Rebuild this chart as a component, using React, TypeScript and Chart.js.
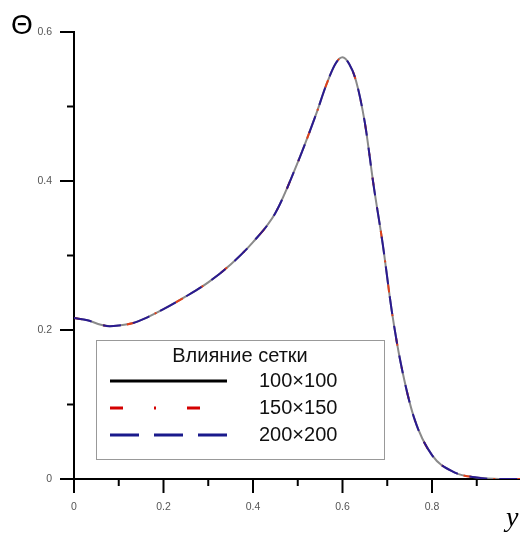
import React, { useEffect, useRef } from "react";
import { Chart, registerables } from "chart.js";

Chart.register(...registerables);

const xValues = [0, 0.03, 0.06, 0.08, 0.1, 0.13, 0.16, 0.2, 0.25, 0.3, 0.35, 0.4, 0.45, 0.5, 0.54, 0.565, 0.585, 0.6, 0.615, 0.63, 0.65, 0.67, 0.69, 0.71, 0.73, 0.76, 0.8, 0.85, 0.9, 0.95, 1.0];
const theta100 = [0.216, 0.213, 0.207, 0.205, 0.206, 0.209, 0.216, 0.228, 0.245, 0.264, 0.288, 0.318, 0.357, 0.425, 0.488, 0.531, 0.558, 0.566, 0.557, 0.535, 0.478, 0.392, 0.315, 0.226, 0.156, 0.082, 0.032, 0.009, 0.002, 0.0, 0.0];
const theta150 = [0.216, 0.213, 0.207, 0.205, 0.206, 0.209, 0.216, 0.228, 0.245, 0.264, 0.288, 0.318, 0.357, 0.425, 0.488, 0.531, 0.558, 0.566, 0.557, 0.535, 0.478, 0.392, 0.315, 0.226, 0.156, 0.082, 0.032, 0.009, 0.002, 0.0, 0.0];
const theta200 = [0.216, 0.213, 0.207, 0.205, 0.206, 0.209, 0.216, 0.228, 0.245, 0.264, 0.288, 0.318, 0.357, 0.425, 0.488, 0.531, 0.558, 0.566, 0.557, 0.535, 0.478, 0.392, 0.315, 0.226, 0.156, 0.082, 0.032, 0.009, 0.002, 0.0, 0.0];

const seriesLabels = ["100×100", "150×150", "200×200"];
const legendTitle = "Влияние сетки";
const yTitle = "Θ";
const xTitle = "y";

const W = 530;
const H = 536;

export default function App() {
  const ref = useRef<HTMLCanvasElement | null>(null);

  useEffect(() => {
    const prevMargin = document.body.style.margin;
    document.body.style.margin = "0";
    document.body.style.overflow = "hidden";
    const canvas = ref.current!;
    const mk = (arr: number[]) => xValues.map((x, i) => ({ x, y: arr[i] }));

    const decor = {
      id: "decor",
      afterDraw(chart: any) {
        const ctx = chart.ctx as CanvasRenderingContext2D;
        const xs = chart.scales.x;
        const ys = chart.scales.y;
        const area = chart.chartArea;
        ctx.save();
        ctx.strokeStyle = "#000";
        ctx.lineWidth = 2;
        for (let i = 0; i <= 10; i++) {
          const v = i / 10;
          const px = xs.getPixelForValue(v);
          const len = i % 2 === 0 ? 14 : 7;
          ctx.beginPath();
          ctx.moveTo(px, area.bottom);
          ctx.lineTo(px, area.bottom + len);
          ctx.stroke();
        }
        for (let i = 0; i <= 6; i++) {
          const v = i / 10;
          const py = ys.getPixelForValue(v);
          const len = i % 2 === 0 ? 14 : 7;
          ctx.beginPath();
          ctx.moveTo(area.left, py);
          ctx.lineTo(area.left - len, py);
          ctx.stroke();
        }
        ctx.fillStyle = "#000";
        ctx.font = "28px 'Liberation Sans', Arial, sans-serif";
        ctx.textAlign = "center";
        ctx.textBaseline = "middle";
        ctx.fillText(yTitle, 22, 26);
        ctx.font = "italic 28px 'Liberation Serif', 'Times New Roman', serif";
        ctx.textAlign = "left";
        ctx.textBaseline = "alphabetic";
        ctx.fillText(xTitle, 506, 526);

        const bx = 96, by = 340, bw = 288, bh = 119;
        ctx.fillStyle = "#fff";
        ctx.fillRect(bx, by, bw, bh);
        ctx.strokeStyle = "#999";
        ctx.lineWidth = 1;
        ctx.strokeRect(bx + 0.5, by + 0.5, bw, bh);
        ctx.fillStyle = "#111";
        ctx.font = "20px 'Liberation Sans', Arial, sans-serif";
        ctx.textAlign = "center";
        ctx.textBaseline = "middle";
        ctx.fillText(legendTitle, 240, 356);
        const rows = [381, 408, 435];
        const colors = ["#000", "#d40000", "#1a1a8c"];
        const dashes = [[], [13, 31, 2, 31], [29, 15]];
        ctx.textAlign = "left";
        rows.forEach((ry, i) => {
          ctx.strokeStyle = colors[i];
          ctx.lineWidth = 3;
          ctx.setLineDash(dashes[i]);
          ctx.beginPath();
          ctx.moveTo(110, ry);
          ctx.lineTo(227, ry);
          ctx.stroke();
          ctx.setLineDash([]);
          ctx.fillStyle = "#111";
          ctx.fillText(seriesLabels[i], 259, ry);
        });
        ctx.restore();
      },
    };

    const tickFont = { family: "'Liberation Sans', Arial, sans-serif", size: 10.5 };

    const chart = new Chart(canvas, {
      type: "scatter",
      data: {
        datasets: [
          {
            label: seriesLabels[0],
            data: mk(theta100),
            showLine: true,
            borderColor: "#8a8a8a",
            borderWidth: 2,
            pointRadius: 0,
            cubicInterpolationMode: "monotone",
            order: 3,
          },
          {
            label: seriesLabels[1],
            data: mk(theta150),
            showLine: true,
            borderColor: "#e0401a",
            borderWidth: 2,
            borderDash: [8, 22, 2, 22],
            pointRadius: 0,
            cubicInterpolationMode: "monotone",
            order: 2,
          },
          {
            label: seriesLabels[2],
            data: mk(theta200),
            showLine: true,
            borderColor: "#2a1a90",
            borderWidth: 2,
            borderDash: [18, 12],
            pointRadius: 0,
            cubicInterpolationMode: "monotone",
            order: 1,
          },
        ],
      },
      options: {
        responsive: false,
        animation: false,
        layout: { padding: { top: 32, right: 8.5, left: 0, bottom: 0 } },
        plugins: { legend: { display: false }, tooltip: { enabled: false } },
        scales: {
          x: {
            type: "linear",
            min: 0,
            max: 1,
            afterFit: (s: any) => {
              s.height = 57;
              s.paddingLeft = 0;
              s.paddingRight = 0;
            },
            grid: { display: false, drawTicks: false },
            border: { display: true, color: "#000", width: 2 },
            ticks: {
              stepSize: 0.1,
              padding: 22,
              color: "#555",
              font: tickFont,
              maxRotation: 0,
              autoSkip: false,
              callback: (v: any) => {
                const n = Math.round(Number(v) * 10);
                if (n % 2 !== 0 || n >= 10) return "";
                return String(n / 10);
              },
            },
          },
          y: {
            type: "linear",
            min: 0,
            max: 0.6,
            afterFit: (s: any) => {
              s.width = 74;
              s.paddingTop = 0;
              s.paddingBottom = 0;
            },
            grid: { display: false, drawTicks: false },
            border: { display: true, color: "#000", width: 2 },
            ticks: {
              stepSize: 0.1,
              padding: 22,
              color: "#555",
              font: tickFont,
              autoSkip: false,
              callback: (v: any) => {
                const n = Math.round(Number(v) * 10);
                if (n % 2 !== 0) return "";
                return String(n / 10);
              },
            },
          },
        },
      },
      plugins: [decor],
    } as any);

    return () => {
      chart.destroy();
      document.body.style.margin = prevMargin;
    };
  }, []);

  return (
    <div style={{ position: "fixed", left: 0, top: 0, width: 520, height: 536, overflow: "hidden", background: "#fff" }}>
      <canvas ref={ref} width={W} height={H} style={{ width: W, height: H, display: "block" }} />
    </div>
  );
}
